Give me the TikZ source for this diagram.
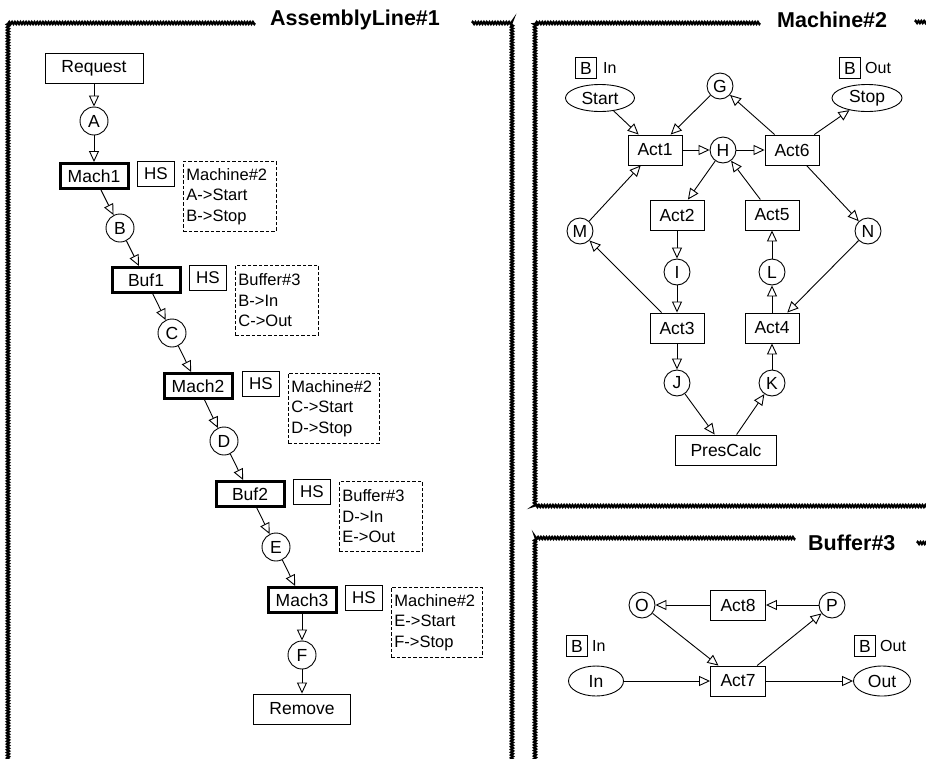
\documentclass[tikz,border=0pt]{standalone}
\usepackage{fontspec}
\setmainfont{Liberation Sans}
\usetikzlibrary{arrows.meta,shapes.geometric,decorations.pathmorphing}
\begin{document}
\begin{tikzpicture}[x=1pt,y=-1pt,
  every node/.style={font=\fontsize{17.5}{21}\selectfont, inner sep=0pt},
  plainbox/.style={draw, line width=0.9pt, minimum height=30pt},
  stagebox/.style={draw, line width=3pt, minimum width=68pt, minimum height=25pt},
  hsbox/.style={draw, line width=0.9pt, minimum width=37pt, minimum height=25pt, font=\fontsize{17}{20}\selectfont},
  mapbox/.style={draw, line width=0.8pt, dash pattern=on 3.5pt off 2pt, anchor=north west,
    minimum height=70pt, align=left, inner sep=3pt, font=\fontsize{16.5}{20.5}\selectfont},
  tok/.style={draw, circle, line width=0.9pt, minimum size=28pt},
  tokr/.style={draw, circle, line width=0.9pt, minimum size=26pt},
  port/.style={draw, ellipse, line width=0.9pt},
  bbox/.style={draw, line width=0.9pt, minimum width=21pt, minimum height=21pt},
  lbl/.style={anchor=west, font=\fontsize{16}{19}\selectfont},
  arr/.style={draw, line width=0.9pt, -{Triangle[open, length=11pt, width=10pt, line width=0.9pt]}},
  frame/.style={line width=2.3pt, decorate, decoration={zigzag, segment length=2.8pt, amplitude=1pt}},
  title/.style={anchor=west, font=\fontsize{21.5}{24}\selectfont\bfseries},
]
\useasboundingbox (0,0) rectangle (926,758);

% ---------- panel frames ----------
\draw[frame] (255,23) -- (8,23) -- (8,770);
\draw[frame] (472,23) -- (512,23) -- (512,770);
\node[title] at (270,20) {AssemblyLine\#1};

\draw[frame] (760,23) -- (535,23) -- (535,506) -- (940,506);
\draw[frame] (915,22) -- (940,22);
\node[title] at (777,20) {Machine\#2};

\draw[frame] (795,538) -- (535,538) -- (535,770);
\draw[frame] (917,543) -- (940,543);
\node[title] at (808,543) {Buffer\#3};

% ---------- AssemblyLine#1 ----------
\node[plainbox, minimum width=98pt] (req) at (94,68) {Request};
\node[tok] (A) at (94,121) {A};
\node[stagebox] (m1) at (94,176) {Mach1};
\node[hsbox] (hs1) at (156,174) {HS};
\node[mapbox, text width=87pt] (map1) at (183,161) {Machine\#2\\A->Start\\B->Stop};
\node[tok] (B) at (120,228) {B};
\node[stagebox] (b1) at (146,280) {Buf1};
\node[hsbox] (hs2) at (208,278) {HS};
\node[mapbox, text width=77pt] (map2) at (235,265) {Buffer\#3\\B->In\\C->Out};
\node[tok] (C) at (172,333) {C};
\node[stagebox] (m2) at (198,386) {Mach2};
\node[hsbox] (hs3) at (261,384) {HS};
\node[mapbox, text width=85pt] (map3) at (288,373) {Machine\#2\\C->Start\\D->Stop};
\node[tok] (D) at (224,441) {D};
\node[stagebox] (b2) at (250,494) {Buf2};
\node[hsbox] (hs4) at (312,492) {HS};
\node[mapbox, text width=77pt] (map4) at (339,481) {Buffer\#3\\D->In\\E->Out};
\node[tok] (E) at (276,547) {E};
\node[stagebox] (m3) at (302,600) {Mach3};
\node[hsbox] (hs5) at (364,598) {HS};
\node[mapbox, text width=85pt] (map5) at (391,587) {Machine\#2\\E->Start\\F->Stop};
\node[tok] (F) at (302,655) {F};
\node[plainbox, minimum width=97pt] (rem) at (302,709) {Remove};

\foreach \s/\t in {req/A, A/m1, m1/B, B/b1, b1/C, C/m2, m2/D, D/b2, b2/E, E/m3, m3/F, F/rem}
  \path[arr] (\s) -- (\t);

% ---------- Machine#2 ----------
\node[bbox] (bin) at (586,68) {B};
\node[lbl] (lin) at (603,68) {In};
\node[port, minimum width=69pt, minimum height=27pt] (start) at (600,98) {Start};
\node[tokr] (G) at (720,86) {G};
\node[bbox] (bout) at (850,68) {B};
\node[lbl] (lout) at (865,68) {Out};
\node[port, minimum width=70pt, minimum height=27pt] (stop) at (867,98) {Stop};
\node[plainbox, minimum width=54pt] (a1) at (655,150) {Act1};
\node[tokr] (H) at (723,150) {H};
\node[plainbox, minimum width=54pt] (a6) at (792,150) {Act6};
\node[plainbox, minimum width=54pt] (a2) at (677,215) {Act2};
\node[plainbox, minimum width=54pt] (a5) at (772,215) {Act5};
\node[tokr] (M) at (580,231) {M};
\node[tokr] (N) at (868,231) {N};
\node[tokr] (I) at (677,272) {I};
\node[tokr] (L) at (772,272) {L};
\node[plainbox, minimum width=54pt] (a3) at (677,328) {Act3};
\node[plainbox, minimum width=54pt] (a4) at (772,328) {Act4};
\node[tokr] (J) at (677,383) {J};
\node[tokr] (K) at (772,383) {K};
\node[plainbox, minimum width=101pt] (pc) at (726,450) {PresCalc};

\foreach \s/\t in {start/a1, G/a1, a6/G, a6/stop, a1/H, H/a6, H/a2, a5/H, a6/N, M/a1,
                   a2/I, I/a3, a3/M, a4/L, L/a5, N/a4, a3/J, J/pc, pc/K, K/a4}
  \path[arr] (\s) -- (\t);

% ---------- Buffer#3 ----------
\node[tokr] (O) at (642,605) {O};
\node[plainbox, minimum width=55pt] (a8) at (738,605) {Act8};
\node[tokr] (P) at (832,605) {P};
\node[bbox] (bin2) at (577,646) {B};
\node[lbl] (lin2) at (592,646) {In};
\node[port, minimum width=55pt, minimum height=30pt] (inp) at (596,681) {In};
\node[plainbox, minimum width=55pt] (a7) at (738,681) {Act7};
\node[bbox] (bout2) at (865,646) {B};
\node[lbl] (lout2) at (880,646) {Out};
\node[port, minimum width=57pt, minimum height=30pt] (outp) at (882,681) {Out};

\foreach \s/\t in {a8/O, P/a8, O/a7, a7/P, inp/a7, a7/outp}
  \path[arr] (\s) -- (\t);
\end{tikzpicture}
\end{document}
